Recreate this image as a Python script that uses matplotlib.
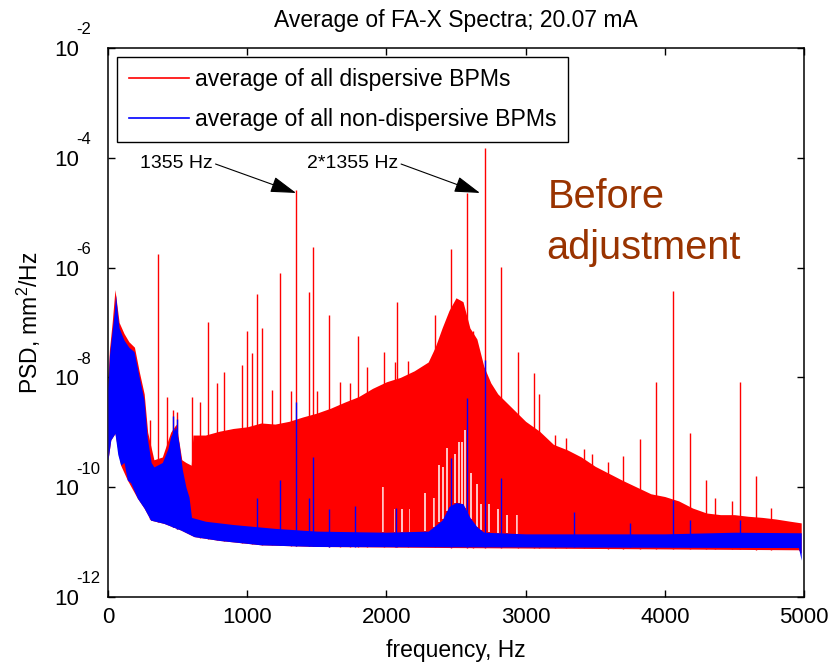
import numpy as np
import matplotlib
matplotlib.use("Agg")
import matplotlib.pyplot as plt
from matplotlib.lines import Line2D
from matplotlib.transforms import blended_transform_factory

plt.rcParams['font.family'] = ['Liberation Sans', 'DejaVu Sans']
plt.rcParams['mathtext.fontset'] = 'custom'
plt.rcParams['mathtext.rm'] = 'Liberation Sans'
plt.rcParams['mathtext.it'] = 'Liberation Sans:italic'
plt.rcParams['mathtext.bf'] = 'Liberation Sans:bold'

# ---------------- data (log10 of PSD) ----------------
# red: average of all dispersive BPMs -- noise band envelope
red_env_freq = [0, 10, 30, 50, 80, 115, 150, 190, 225, 260, 285, 330, 390, 450, 490,
                530, 560, 598, 610, 700, 800, 900, 1000, 1100, 1200, 1300, 1400, 1500,
                1600, 1700, 1800, 1900, 2000, 2100, 2200, 2300, 2350, 2400, 2450, 2500,
                2550, 2600, 2650, 2700, 2750, 2800, 2900, 3000, 3100, 3200, 3300, 3400,
                3500, 3600, 3700, 3800, 3900, 4000, 4100, 4200, 4300, 4400, 4500, 4600,
                4700, 4800, 4900, 4980]
red_env_top = [-8.0, -7.5, -7.0, -6.4, -7.0, -7.2, -7.35, -7.45, -7.9, -8.3, -9.0, -9.5,
               -9.45, -9.0, -8.85, -9.5, -9.55, -9.6, -9.05, -9.05, -8.98, -8.93, -8.9,
               -8.83, -8.85, -8.8, -8.72, -8.65, -8.56, -8.45, -8.35, -8.2, -8.08, -8.0,
               -7.88, -7.72, -7.45, -7.1, -6.78, -6.55, -6.62, -7.1, -7.3, -7.8, -8.1,
               -8.3, -8.55, -8.8, -8.98, -9.22, -9.32, -9.45, -9.62, -9.75, -9.88, -10.0,
               -10.12, -10.17, -10.25, -10.38, -10.47, -10.5, -10.5, -10.53, -10.55,
               -10.58, -10.62, -10.65]
red_low_freq = [0, 20, 50, 91, 139, 211, 259, 306, 402, 522, 618, 800, 1100, 1500, 2500,
                4960, 4980]
red_env_low = [-9.5, -9.14, -9.02, -9.6, -9.87, -10.2, -10.38, -10.6, -10.66, -10.78,
               -10.9, -10.97, -11.05, -11.08, -11.1, -11.14, -11.2]

# red discrete lines (frequency in Hz, log10 PSD)
red_line_freq = [302, 362, 421, 465, 498, 601, 661, 716, 781, 833, 960, 996, 1032, 1073,
                 1109, 1176, 1236, 1315, 1351, 1444, 1475, 1499, 1590, 1667, 1739, 1799,
                 1858, 1983, 2062, 2074, 2157, 2349, 2464, 2582, 2620, 2708, 2823, 2948,
                 3063, 3099, 3210, 3290, 3420, 3480, 3590, 3697, 3822, 3937, 4056, 4181,
                 4296, 4360, 4480, 4540, 4655, 4760]
red_line_peak = [-8.78, -5.75, -8.36, -8.6, -8.63, -8.36, -8.45, -6.99, -8.10, -7.90,
                 -7.77, -7.15, -7.56, -6.48, -7.10, -8.23, -6.10, -8.25, -4.59, -6.45,
                 -5.62, -8.25, -6.86, -8.08, -8.1, -7.25, -7.81, -7.54, -7.72, -6.63,
                 -7.7, -6.86, -5.66, -4.65, -7.15, -3.82, -5.99, -7.54, -7.92, -8.3,
                 -9.05, -9.1, -9.3, -9.4, -9.55, -9.43, -9.12, -8.08, -6.43, -9.01,
                 -9.87, -10.2, -10.25, -8.08, -9.80, -10.38]

# local minima of the red trace that stay above the blue floor (white gaps)
red_gap_freq = [1976, 2060, 2115, 2160, 2277, 2340, 2380, 2405, 2435, 2490, 2520, 2545,
                2565, 2610, 2650, 2680, 2740, 2800, 2866, 2940]
red_gap_level = [-10.0, -10.4, -10.4, -10.4, -10.1, -10.2, -9.6, -9.63, -9.29, -9.4,
                 -9.18, -9.18, -8.95, -9.74, -9.95, -10.3, -10.3, -10.4, -10.5, -10.5]

# blue: average of all non-dispersive BPMs -- noise band envelope
blue_top_freq = [0, 10, 30, 45, 55, 70, 80, 115, 150, 187, 223, 259, 282, 310, 330, 390,
                 430, 450, 486, 510, 534, 560, 582, 600, 700, 900, 1200, 1500, 2000, 2300,
                 2400, 2450, 2500, 2550, 2600, 2650, 2700, 3000, 4000, 4500, 4980]
blue_env_top = [-8.2, -7.6, -7.14, -6.8, -6.5, -6.9, -7.1, -7.32, -7.45, -7.53, -7.98,
                -8.41, -9.1, -9.55, -9.63, -9.55, -9.3, -9.08, -8.9, -9.2, -9.68, -10.0,
                -10.18, -10.55, -10.62, -10.68, -10.75, -10.8, -10.82, -10.8, -10.6,
                -10.35, -10.28, -10.3, -10.55, -10.72, -10.82, -10.85, -10.85, -10.82,
                -10.83]
blue_low_freq = [0, 20, 50, 70, 91, 115, 139, 163, 211, 259, 306, 402, 522, 618, 800,
                 1100, 1500, 4960, 4980]
blue_env_low = [-9.5, -9.14, -9.02, -9.4, -9.6, -9.55, -9.87, -9.92, -10.2, -10.38,
                -10.6, -10.66, -10.78, -10.9, -10.97, -11.05, -11.08, -11.1, -11.33]

# blue discrete lines
blue_line_freq = [465, 498, 1073, 1236, 1351, 1444, 1475, 1590, 1774, 2069, 2464, 2577,
                  2708, 2823, 3350, 3750, 4056, 4181, 4540]
blue_line_peak = [-8.7, -8.75, -10.2, -9.87, -8.45, -10.2, -9.45, -10.4, -10.35, -10.38,
                  -9.47, -8.38, -7.68, -9.83, -10.45, -10.65, -10.23, -10.6, -10.6]

x_ticks = [0, 1000, 2000, 3000, 4000, 5000]
y_tick_exponents = [-12, -10, -8, -6, -4, -2]

# ---------------- figure ----------------
W, H = 829, 665
fig = plt.figure(figsize=(W / 100, H / 100), dpi=100)
ax = fig.add_axes([108 / W, 1 - 597 / H, (804 - 108) / W, (597 - 48) / H])


def to_psd(v):
    return np.power(10.0, np.asarray(v, dtype=float))


def band(top_f, top_v, low_f, low_v):
    f = np.union1d(top_f, low_f)
    return f, np.interp(f, top_f, top_v), np.interp(f, low_f, low_v)


RED = (1.0, 0.0, 0.0)
BLUE = (0.0, 0.0, 1.0)

# red band
rf, rtop, rlow = band(red_env_freq, red_env_top, red_low_freq, red_env_low)
ax.fill_between(rf, to_psd(rlow), to_psd(rtop), color=RED, lw=0, zorder=1)
gap_base = np.interp(red_gap_freq, blue_top_freq, blue_env_top)
ax.vlines(red_gap_freq, to_psd(gap_base), to_psd(red_gap_level), color='white',
          lw=1.1, zorder=1.5)
red_base = np.interp(red_line_freq, red_low_freq, red_env_low)
ax.vlines(red_line_freq, to_psd(red_base), to_psd(red_line_peak), color=RED, lw=1.0,
          zorder=2)

# blue band
bf, btop, blow = band(blue_top_freq, blue_env_top, blue_low_freq, blue_env_low)
ax.fill_between(bf, to_psd(blow), to_psd(btop), color=BLUE, lw=0, zorder=3)
blue_base = np.interp(blue_line_freq, blue_low_freq, blue_env_low)
ax.vlines(blue_line_freq, to_psd(blue_base), to_psd(blue_line_peak), color=BLUE, lw=1.0,
          zorder=4)

ax.set_yscale('log')
ax.set_xlim(0, 5000)
ax.set_ylim(1e-12, 1e-2)

ax.set_xticks(x_ticks)
ax.set_xticklabels([str(t) for t in x_ticks])
ax.set_yticks([10.0 ** e for e in y_tick_exponents])
ax.set_yticklabels(['10'] * len(y_tick_exponents))
ax.minorticks_off()
ax.tick_params(axis='both', which='major', direction='in', length=5, width=1.0,
               top=True, right=True, labelsize=16, colors='black')
ax.tick_params(axis='x', pad=7)
ax.tick_params(axis='y', pad=21)

ytrans = blended_transform_factory(ax.transAxes, ax.transData)
for e in y_tick_exponents:
    ax.annotate(str(e), xy=(0, 10.0 ** e), xycoords=ytrans, xytext=(-23, 13),
                textcoords='offset points', ha='left', va='center', fontsize=12)

for s in ax.spines.values():
    s.set_linewidth(1.1)
    s.set_color('black')

ax.set_title('Average of FA-X Spectra; 20.07 mA', fontsize=16.5, pad=15)
ax.set_xlabel('frequency, Hz', fontsize=16.5, labelpad=8)
ax.set_ylabel('PSD, mm$^2$/Hz', fontsize=16.5, labelpad=8)

handles = [Line2D([], [], color=RED, lw=1.2), Line2D([], [], color=BLUE, lw=1.2)]
leg = ax.legend(handles, ['average of all dispersive BPMs',
                          'average of all non-dispersive BPMs'],
                loc='upper left', bbox_to_anchor=(0.013, 0.984), borderaxespad=0,
                fontsize=16.6, frameon=True, fancybox=False, shadow=False,
                handlelength=2.6, handletextpad=0.3, labelspacing=0.72, borderpad=0.5)
leg.get_frame().set_edgecolor('black')
leg.get_frame().set_linewidth(1.0)
leg.get_frame().set_alpha(1)
leg.set_zorder(10)

arrow_kw = dict(arrowstyle='-|>,head_length=0.8,head_width=0.25', color='black',
                lw=0.8, shrinkA=0, shrinkB=0, relpos=(1, 0.5), mutation_scale=20)
ax.annotate('1355 Hz', xy=(1351, 10 ** -4.64), xytext=(230, 10 ** -4.095),
            ha='left', va='center', fontsize=14, arrowprops=arrow_kw, zorder=11)
ax.annotate('2*1355 Hz', xy=(2672, 10 ** -4.64), xytext=(1430, 10 ** -4.095),
            ha='left', va='center', fontsize=14, arrowprops=arrow_kw, zorder=11)

ax.text(3161, 10 ** -4.914, 'Before', color='#993300', fontsize=28.6,
        ha='left', va='baseline', zorder=11)
ax.text(3150, 10 ** -5.843, 'adjustment', color='#993300', fontsize=28.6,
        ha='left', va='baseline', zorder=11)

fig.savefig('out.png', dpi=100, facecolor='white')
